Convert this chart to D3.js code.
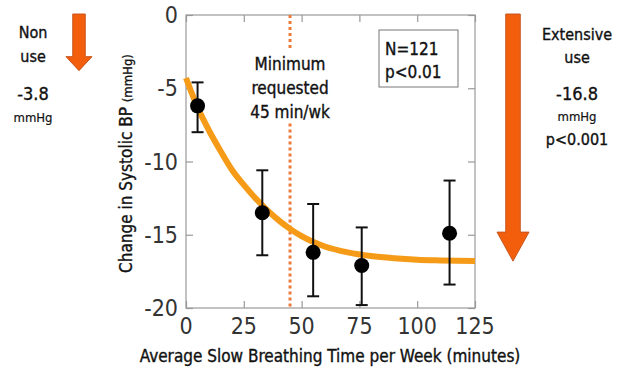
<!DOCTYPE html>
<html lang="en">
<head>
<meta charset="UTF-8">
<title>Slow breathing vs systolic BP</title>
<script src="https://d3js.org/d3.v7.min.js"></script>
<style>
    body { margin: 0; background: #fff; }
    svg { font-family: "Liberation Sans Narrow", "DejaVu Sans Condensed", "Roboto", sans-serif; }
    .tick-label { font-size: 23px; fill: #333; }
    .note { font-size: 17px; fill: #111; stroke: #111; stroke-width: 0.35px; }
</style>
</head>
<body>
<svg id="chart" width="622" height="372"></svg>
<script>
    // measured points (minutes/week, change in SBP) with error bars
    const minutes = [5, 33, 55, 76, 114];
    const meanChange = [-6.2, -13.5, -16.2, -17.1, -14.9];
    const errLow = [-8.0, -16.4, -19.2, -19.8, -18.4];
    const errHigh = [-4.6, -10.6, -12.9, -14.5, -11.3];

    // fitted curve
    const curveX = [0, 5, 10, 15, 20, 25, 30, 35, 40, 45, 50, 60, 70, 80, 90, 100, 110, 125];
    const curveY = [-4.3, -6.3, -7.9, -9.3, -10.6, -11.6, -12.5, -13.3, -14.0, -14.6, -15.1, -15.8, -16.2, -16.45, -16.6, -16.7, -16.75, -16.8];

    const xTicks = [0, 25, 50, 75, 100, 125];
    const yTicks = [0, -5, -10, -15, -20];
    const minRequested = 45;
    const nonUse = -3.8;
    const extensiveUse = -16.8;

    const svg = d3.select("#chart");
    const plot = { left: 186, right: 475, top: 15, bottom: 308 };

    const x = d3.scaleLinear().domain([0, 125]).range([plot.left, plot.right]);
    const y = d3.scaleLinear().domain([-20, 0]).range([plot.bottom, plot.top]);

    // frame + inward ticks
    const frameColor = "#999";
    svg.append("g").attr("transform", `translate(0,${plot.bottom})`)
        .call(d3.axisTop(x).tickValues(xTicks).tickSize(7).tickFormat(""))
        .call(g => g.select(".domain").remove());
    svg.append("g").attr("transform", `translate(0,${plot.top})`)
        .call(d3.axisBottom(x).tickValues(xTicks).tickSize(7).tickFormat(""))
        .call(g => g.select(".domain").remove());
    svg.append("g").attr("transform", `translate(${plot.left},0)`)
        .call(d3.axisRight(y).tickValues(yTicks).tickSize(7).tickFormat(""))
        .call(g => g.select(".domain").remove());
    svg.append("g").attr("transform", `translate(${plot.right},0)`)
        .call(d3.axisLeft(y).tickValues(yTicks).tickSize(7).tickFormat(""))
        .call(g => g.select(".domain").remove());
    svg.selectAll(".tick line").attr("stroke", frameColor).attr("stroke-width", 1.2);

    svg.append("rect")
        .attr("x", plot.left).attr("y", plot.top)
        .attr("width", plot.right - plot.left).attr("height", plot.bottom - plot.top)
        .attr("fill", "none").attr("stroke", frameColor).attr("stroke-width", 1.2);

    // tick labels
    svg.selectAll(".xl").data(xTicks).enter().append("text")
        .attr("class", "tick-label")
        .attr("x", d => x(d)).attr("y", plot.bottom + 26)
        .attr("text-anchor", "middle")
        .text(d => d);
    svg.selectAll(".yl").data(yTicks).enter().append("text")
        .attr("class", "tick-label")
        .attr("x", plot.left - 8).attr("y", d => y(d) + 8)
        .attr("text-anchor", "end")
        .text(d => d === 0 ? "0" : "-" + Math.abs(d));

    // axis titles
    svg.append("text")
        .attr("class", "note")
        .attr("transform", `translate(132,${(plot.top + plot.bottom) / 2 + 2}) rotate(-90)`)
        .attr("text-anchor", "middle")
        .html('Change in Systolic BP <tspan style="font-size:13px">(mmHg)</tspan>');
    svg.append("text")
        .attr("class", "note")
        .attr("x", 330).attr("y", 362)
        .attr("text-anchor", "middle")
        .text("Average Slow Breathing Time per Week (minutes)");

    // minimum requested line (dotted, broken around the note)
    const dotted = [[0, -2.4], [-7.4, -20]];
    svg.selectAll(".minline").data(dotted).enter().append("line")
        .attr("x1", x(minRequested)).attr("x2", x(minRequested))
        .attr("y1", d => y(d[0])).attr("y2", d => y(d[1]))
        .attr("stroke", "#ec7a3a").attr("stroke-width", 3)
        .attr("stroke-dasharray", "3,3");
    svg.selectAll(".minnote").data(["Minimum", "requested", "45 min/wk"]).enter().append("text")
        .attr("class", "note")
        .attr("x", x(minRequested)).attr("y", (d, i) => 70 + i * 24)
        .attr("text-anchor", "middle")
        .text(d => d);

    // fitted curve
    svg.append("path")
        .datum(curveX.map((d, i) => [d, curveY[i]]))
        .attr("fill", "none")
        .attr("stroke", "#f59b17")
        .attr("stroke-width", 6)
        .attr("d", d3.line().x(d => x(d[0])).y(d => y(d[1])).curve(d3.curveMonotoneX));

    // error bars and means
    const pts = minutes.map((m, i) => ({ m, v: meanChange[i], lo: errLow[i], hi: errHigh[i] }));
    const bars = svg.selectAll(".bar").data(pts).enter().append("g");
    bars.append("line")
        .attr("x1", d => x(d.m)).attr("x2", d => x(d.m))
        .attr("y1", d => y(d.lo)).attr("y2", d => y(d.hi))
        .attr("stroke", "#111").attr("stroke-width", 2);
    bars.selectAll(".cap").data(d => [[d.m, d.lo], [d.m, d.hi]]).enter().append("line")
        .attr("x1", d => x(d[0]) - 6).attr("x2", d => x(d[0]) + 6)
        .attr("y1", d => y(d[1])).attr("y2", d => y(d[1]))
        .attr("stroke", "#111").attr("stroke-width", 2);
    bars.append("circle")
        .attr("cx", d => x(d.m)).attr("cy", d => y(d.v))
        .attr("r", 7.5).attr("fill", "#000");

    // N / p box
    svg.append("rect")
        .attr("x", 379).attr("y", 30).attr("width", 79).attr("height", 57)
        .attr("fill", "#fff").attr("stroke", "#777").attr("stroke-width", 1);
    svg.selectAll(".np").data(["N=121", "p<0.01"]).enter().append("text")
        .attr("class", "note")
        .attr("x", 385).attr("y", (d, i) => 55 + i * 23)
        .text(d => d);

    // arrows: length follows the y scale
    function arrow(cx, value, shaftW, headW, headL) {
        const top = y(0) - 1, tip = y(value), neck = tip - headL;
        const p = d3.path();
        p.moveTo(cx - shaftW / 2, top);
        p.lineTo(cx + shaftW / 2, top);
        p.lineTo(cx + shaftW / 2, neck);
        p.lineTo(cx + headW / 2, neck);
        p.lineTo(cx, tip);
        p.lineTo(cx - headW / 2, neck);
        p.lineTo(cx - shaftW / 2, neck);
        p.closePath();
        svg.append("path").attr("d", p.toString())
            .attr("fill", "#f35e0c").attr("stroke", "#c8561e").attr("stroke-width", 1);
    }
    arrow(79, nonUse, 12.5, 26, 14);
    arrow(513, extensiveUse, 14.5, 32, 29);

    // side notes
    const leftNote = [["Non", 38, 16], ["use", 62, 16], [String(nonUse), 100, 18], ["mmHg", 122, 13]];
    const rightNote = [["Extensive", 40, 16], ["use", 63, 16], [String(extensiveUse), 100, 18], ["mmHg", 121, 13], ["p<0.001", 145, 16]];
    svg.selectAll(".ln").data(leftNote).enter().append("text")
        .attr("class", "note")
        .attr("x", 33).attr("y", d => d[1]).attr("text-anchor", "middle")
        .style("font-size", d => d[2] + "px")
        .style("stroke-width", d => d[2] < 14 ? "0.2px" : null)
        .text(d => d[0]);
    svg.selectAll(".rn").data(rightNote).enter().append("text")
        .attr("class", "note")
        .attr("x", 577).attr("y", d => d[1]).attr("text-anchor", "middle")
        .style("font-size", d => d[2] + "px")
        .style("stroke-width", d => d[2] < 14 ? "0.2px" : null)
        .text(d => d[0]);
</script>
</body>
</html>
